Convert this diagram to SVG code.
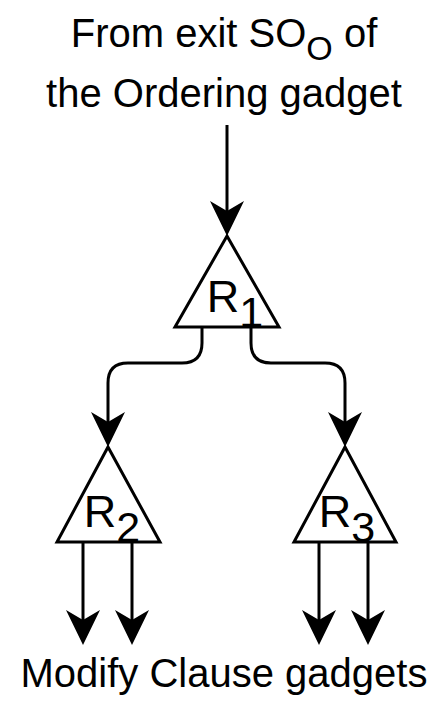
<svg xmlns="http://www.w3.org/2000/svg" width="448" height="704" viewBox="0 0 448 704">
<style>
.t{font-family:"Liberation Sans",Arial,sans-serif;fill:#000}
.tri{fill:#fff;stroke:#000;stroke-width:3;stroke-linejoin:miter}
.c{fill:none;stroke:#000;stroke-width:3}
</style>
<defs>
<marker id="ah" markerUnits="userSpaceOnUse" markerWidth="40" markerHeight="40" viewBox="0 -20 40 40" refX="10" refY="0" orient="auto">
<path d="M0,-17 L35,0 L0,17 L10,0 Z" fill="#000"/>
</marker>
</defs>
<rect width="448" height="704" fill="#fff"/>
<g id="title">
<text class="t" x="224" y="47" font-size="40" text-anchor="middle">From exit SO<tspan font-size="34" dy="13">O</tspan><tspan dy="-13"> of</tspan></text>
<text class="t" x="224" y="107" font-size="40" text-anchor="middle">the Ordering gadget</text>
</g>
<g id="connectors">
<path class="c" d="M227,125 V211" marker-end="url(#ah)"/>
<path class="c" d="M202,327 V343 Q202,363 182,363 H128 Q108,363 108,383 V422" marker-end="url(#ah)"/>
<path class="c" d="M251,327 V343 Q251,363 271,363 H325 Q345,363 345,383 V422" marker-end="url(#ah)"/>
<path class="c" d="M83,542 V620" marker-end="url(#ah)"/>
<path class="c" d="M132,542 V620" marker-end="url(#ah)"/>
<path class="c" d="M319,542 V620" marker-end="url(#ah)"/>
<path class="c" d="M368,542 V620" marker-end="url(#ah)"/>
</g>
<g id="R1">
<polygon class="tri" points="227,236 279,327 175,327"/>
<text class="t" x="235" y="312" font-size="45" text-anchor="middle">R<tspan font-size="43" dy="15">1</tspan></text>
</g>
<g id="R2">
<polygon class="tri" points="108,447 160,542 57,542"/>
<text class="t" x="112" y="527" font-size="45" text-anchor="middle">R<tspan font-size="43" dy="15">2</tspan></text>
</g>
<g id="R3">
<polygon class="tri" points="345,447 396,542 294,542"/>
<text class="t" x="347" y="527" font-size="45" text-anchor="middle">R<tspan font-size="43" dy="15">3</tspan></text>
</g>
<g id="bottom">
<text class="t" x="224" y="687" font-size="40" text-anchor="middle">Modify Clause gadgets</text>
</g>
</svg>
